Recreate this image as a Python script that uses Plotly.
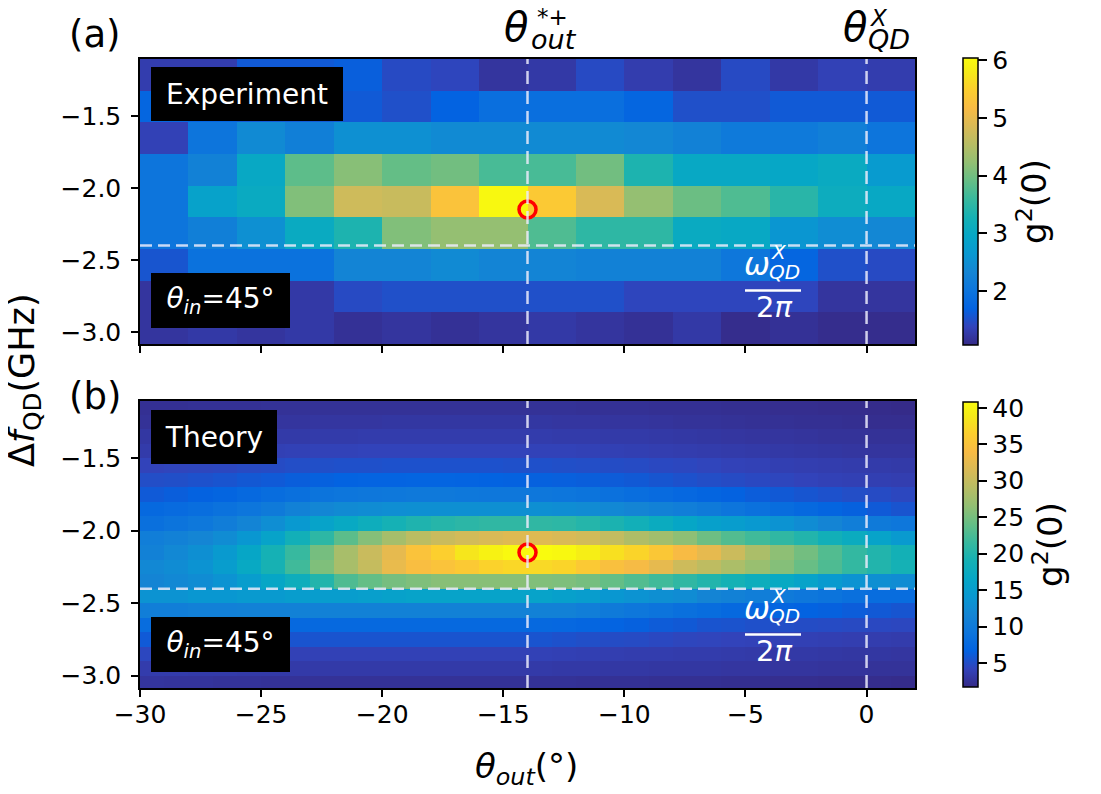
import plotly.graph_objects as go

# ---------------- data ----------------
exp_theta = [-29, -27, -25, -23, -21, -19, -17, -15, -13, -11, -9, -7, -5, -3, -1, 1]
exp_df = [-1.215, -1.435, -1.655, -1.875, -2.095, -2.315, -2.535, -2.755, -2.975]
exp_g2 = [
    [1.30, 1.30, 1.60, 1.60, 1.65, 1.45, 1.40, 1.20, 1.25, 1.45, 1.30, 1.20, 1.45, 1.25, 1.35, 1.30],
    [1.75, 1.70, 1.60, 1.60, 1.60, 1.50, 1.70, 1.90, 1.90, 1.90, 1.75, 1.50, 1.50, 1.60, 1.60, 1.60],
    [1.35, 2.00, 2.40, 2.20, 2.50, 2.50, 2.40, 2.40, 2.40, 2.40, 2.35, 2.25, 2.10, 2.10, 2.20, 2.00],
    [2.00, 2.25, 3.00, 3.85, 4.15, 3.90, 4.00, 3.70, 3.70, 4.00, 3.35, 3.00, 3.00, 2.95, 3.05, 2.70],
    [2.00, 2.85, 3.05, 4.10, 4.75, 4.70, 5.30, 6.00, 5.40, 4.85, 4.25, 3.95, 3.75, 3.45, 3.10, 3.00],
    [2.00, 2.20, 2.50, 3.05, 3.35, 4.10, 4.25, 4.25, 3.75, 3.50, 3.50, 3.05, 3.00, 2.60, 2.45, 2.35],
    [1.55, 1.95, 1.95, 1.95, 2.30, 2.30, 2.40, 2.30, 2.30, 2.25, 2.25, 2.25, 2.05, 1.75, 1.50, 1.45],
    [1.20, 1.50, 1.40, 1.25, 1.45, 1.50, 1.50, 1.50, 1.50, 1.50, 1.40, 1.40, 1.40, 1.40, 1.20, 1.20],
    [1.20, 1.25, 1.20, 1.25, 1.15, 1.20, 1.15, 1.20, 1.25, 1.20, 1.15, 1.25, 1.10, 1.15, 1.10, 1.10],
]

theo_theta = [-29.5, -28.5, -27.5, -26.5, -25.5, -24.5, -23.5, -22.5, -21.5, -20.5, -19.5,
              -18.5, -17.5, -16.5, -15.5, -14.5, -13.5, -12.5, -11.5, -10.5, -9.5, -8.5,
              -7.5, -6.5, -5.5, -4.5, -3.5, -2.5, -1.5, -0.5, 0.5, 1.5]
theo_df = [-1.15, -1.25, -1.35, -1.45, -1.55, -1.65, -1.75, -1.85, -1.95, -2.05,
           -2.15, -2.25, -2.35, -2.45, -2.55, -2.65, -2.75, -2.85, -2.95, -3.05]
theo_g2 = [
    [2.3, 2.3, 2.4, 2.4, 2.4, 2.5, 2.5, 2.5, 2.5, 2.5, 2.5, 2.5, 2.5, 2.5, 2.5, 2.5,
     2.5, 2.5, 2.4, 2.4, 2.4, 2.3, 2.3, 2.3, 2.2, 2.2, 2.1, 2.1, 2.0, 2.0, 1.9, 1.8],
    [2.5, 2.6, 2.6, 2.7, 2.7, 2.8, 2.8, 2.9, 2.9, 2.9, 3.0, 3.0, 3.0, 3.0, 3.0, 3.0,
     3.0, 2.9, 2.9, 2.8, 2.8, 2.7, 2.6, 2.6, 2.5, 2.4, 2.4, 2.3, 2.3, 2.2, 2.1, 2.1],
    [3.0, 3.0, 3.1, 3.1, 3.2, 3.3, 3.3, 3.4, 3.4, 3.5, 3.5, 3.5, 3.5, 3.5, 3.5, 3.5,
     3.5, 3.4, 3.4, 3.3, 3.3, 3.2, 3.1, 3.0, 2.9, 2.8, 2.8, 2.7, 2.6, 2.6, 2.5, 2.5],
    [3.4, 3.5, 3.6, 3.7, 3.8, 3.9, 4.0, 4.1, 4.1, 4.2, 4.2, 4.2, 4.2, 4.2, 4.2, 4.2,
     4.1, 4.1, 4.0, 3.9, 3.8, 3.7, 3.6, 3.5, 3.4, 3.3, 3.2, 3.1, 3.0, 2.9, 2.8, 2.8],
    [4.2, 4.3, 4.4, 4.5, 4.7, 4.8, 5.0, 5.1, 5.2, 5.2, 5.3, 5.3, 5.3, 5.3, 5.3, 5.2,
     5.2, 5.1, 5.0, 4.9, 4.8, 4.6, 4.5, 4.3, 4.1, 4.0, 3.8, 3.7, 3.6, 3.5, 3.4, 3.3],
    [5.0, 5.1, 5.3, 5.5, 5.8, 6.0, 6.3, 6.5, 6.7, 6.8, 6.8, 6.9, 6.9, 6.8, 6.7, 6.6,
     6.5, 6.4, 6.3, 6.1, 5.9, 5.6, 5.3, 5.0, 4.8, 4.6, 4.4, 4.2, 4.0, 3.9, 3.8, 3.7],
    [6.0, 6.3, 6.6, 7.0, 7.5, 8.0, 8.5, 9.0, 9.3, 9.5, 9.6, 9.7, 9.7, 9.6, 9.5, 9.5,
     9.4, 9.3, 9.0, 8.6, 8.2, 7.8, 7.4, 7.0, 6.6, 6.2, 5.9, 5.6, 5.3, 5.0, 4.8, 4.5],
    [7.5, 7.8, 8.2, 8.7, 9.3, 10.0, 11.0, 11.8, 12.3, 12.6, 12.8, 13.0, 13.0, 13.0, 13.0, 13.0,
     12.9, 12.7, 12.4, 12.0, 11.5, 11.0, 10.5, 10.0, 9.2, 8.6, 8.0, 7.5, 7.0, 6.5, 6.0, 5.5],
    [8.5, 9.0, 9.6, 10.4, 11.4, 12.8, 14.3, 16.0, 17.0, 18.0, 19.0, 19.8, 20.3, 20.7, 21.0, 21.0,
     21.0, 20.8, 20.2, 19.5, 18.5, 17.5, 16.5, 15.5, 15.0, 14.3, 13.5, 12.5, 11.5, 10.5, 10.0, 9.5],
    [10.5, 11.0, 11.6, 12.5, 14.0, 16.0, 18.5, 20.8, 23.5, 25.8, 27.8, 29.3, 30.3, 31.0, 31.5, 32.0,
     32.0, 31.5, 31.0, 29.8, 28.5, 27.5, 26.3, 24.5, 23.0, 22.0, 21.0, 20.0, 18.5, 17.5, 16.0, 14.5],
    [11.0, 12.0, 13.0, 14.5, 16.5, 19.0, 21.5, 25.0, 28.0, 30.3, 32.5, 35.0, 36.5, 38.5, 39.8, 40.6,
     40.8, 40.5, 39.3, 38.0, 37.0, 35.5, 34.0, 32.5, 30.5, 28.2, 26.3, 24.8, 23.0, 21.2, 20.0, 18.8],
    [12.0, 12.5, 13.5, 15.0, 17.0, 19.2, 22.0, 25.5, 28.0, 30.0, 32.8, 34.3, 35.0, 35.8, 36.8, 37.2,
     37.4, 37.0, 35.8, 34.6, 33.8, 32.5, 30.6, 29.5, 28.3, 27.0, 25.8, 24.2, 22.8, 21.2, 20.0, 19.0],
    [11.5, 12.0, 12.5, 13.5, 15.0, 16.5, 18.0, 20.0, 22.8, 24.0, 25.0, 25.5, 26.0, 26.0, 26.0, 26.0,
     25.6, 25.4, 25.0, 24.0, 23.0, 22.0, 21.0, 20.0, 19.0, 18.0, 17.0, 16.0, 14.5, 13.5, 13.0, 12.5],
    [13.5, 13.5, 14.0, 14.0, 14.5, 14.5, 15.0, 15.0, 15.0, 15.3, 15.6, 16.0, 16.0, 16.0, 16.0, 16.0,
     16.0, 15.5, 15.0, 14.0, 13.5, 13.0, 12.5, 11.5, 11.0, 10.5, 10.0, 9.5, 9.0, 8.5, 8.0, 8.0],
    [10.5, 10.5, 10.8, 10.8, 11.0, 11.0, 11.0, 11.0, 11.0, 11.0, 11.0, 11.0, 11.0, 11.0, 11.0, 11.0,
     11.0, 11.0, 10.5, 10.0, 9.5, 9.0, 8.5, 8.0, 7.5, 7.2, 7.0, 6.7, 6.5, 6.2, 5.9, 5.6],
    [8.0, 7.8, 7.8, 7.7, 7.6, 7.5, 7.5, 7.5, 7.5, 7.5, 7.5, 7.5, 7.5, 7.5, 7.5, 7.5,
     7.5, 7.4, 7.1, 6.8, 6.5, 6.1, 5.9, 5.5, 5.4, 5.2, 5.0, 4.9, 4.8, 4.7, 4.6, 4.5],
    [6.0, 5.9, 5.8, 5.7, 5.6, 5.6, 5.5, 5.5, 5.5, 5.5, 5.5, 5.5, 5.5, 5.5, 5.5, 5.5,
     5.5, 5.3, 5.1, 4.9, 4.8, 4.6, 4.4, 4.3, 4.2, 4.1, 4.0, 3.9, 3.8, 3.7, 3.6, 3.5],
    [4.5, 4.5, 4.4, 4.3, 4.2, 4.1, 4.0, 4.0, 4.0, 4.0, 4.0, 4.0, 4.0, 4.0, 4.0, 4.0,
     4.0, 3.9, 3.8, 3.7, 3.6, 3.6, 3.5, 3.5, 3.4, 3.3, 3.2, 3.2, 3.1, 3.0, 3.0, 2.9],
    [3.5, 3.5, 3.4, 3.4, 3.3, 3.3, 3.3, 3.3, 3.3, 3.3, 3.3, 3.3, 3.3, 3.3, 3.3, 3.3,
     3.3, 3.2, 3.2, 3.1, 3.1, 3.0, 3.0, 3.0, 2.9, 2.9, 2.8, 2.8, 2.7, 2.7, 2.6, 2.6],
    [2.8, 2.7, 2.7, 2.6, 2.6, 2.5, 2.5, 2.5, 2.5, 2.5, 2.5, 2.5, 2.5, 2.5, 2.5, 2.5,
     2.5, 2.5, 2.4, 2.4, 2.4, 2.3, 2.3, 2.3, 2.2, 2.2, 2.1, 2.1, 2.0, 2.0, 2.0, 1.9],
]

marker_theta = [-14]          # theta*_out
marker_df = [-2.15]
vline_theta = [-14, 0]        # theta*+_out, theta^X_QD
hline_df = -2.4               # omega^X_QD / 2pi
x_ticks = [-30, -25, -20, -15, -10, -5, 0]
y_ticks = [-1.5, -2.0, -2.5, -3.0]
exp_cb_ticks = [2, 3, 4, 5, 6]
theo_cb_ticks = [5, 10, 15, 20, 25, 30, 35, 40]

# ---------------- style ----------------
W, H = 1101, 794
OFF = 8          # page body margin of the html page
FONT = "DejaVu Sans"

parula_pts = [
    (0, (53, 42, 135)), (4, (50, 67, 186)), (8, (3, 99, 225)), (12, (13, 117, 220)),
    (16, (20, 133, 212)), (20, (9, 152, 209)), (24, (6, 167, 198)), (28, (21, 177, 180)),
    (32, (56, 185, 158)), (36, (101, 190, 134)), (40, (146, 191, 115)), (44, (183, 189, 100)),
    (48, (217, 186, 86)), (52, (248, 187, 68)), (56, (252, 206, 46)), (60, (245, 235, 24)),
    (63, (249, 251, 14)),
]
parula = [[i / 63, "rgb(%d,%d,%d)" % c] for i, c in parula_pts]


def fx(x):
    return (x - OFF) / W


def fy(y):
    return 1 - (y - OFF) / H


def px(x, y):
    return fx(x), fy(y)


def cbar(ticks, ytop, ybot):
    return dict(
        x=fx(963), xanchor="left", y=fy((ytop + ybot) / 2), yanchor="middle",
        len=(ybot - ytop) / H, lenmode="fraction", thickness=15, thicknessmode="pixels",
        outlinecolor="black", outlinewidth=1.5, ticks="outside", ticklen=9, tickwidth=1.5,
        tickcolor="black", tickvals=ticks, tickfont=dict(size=25, color="black", family=FONT),
        xpad=0, ypad=0,
        title=dict(text="g<sup>2</sup>(0)", side="right", font=dict(size=34, color="black", family=FONT)),
    )


fig = go.Figure()
fig.add_trace(go.Heatmap(x=exp_theta, y=exp_df, z=exp_g2, colorscale=parula, zmin=1.06, zmax=6.04,
                         xaxis="x", yaxis="y", colorbar=cbar(exp_cb_ticks, 58, 345)))
fig.add_trace(go.Heatmap(x=theo_theta, y=theo_df, z=theo_g2, colorscale=parula, zmin=1.7, zmax=40.8,
                         xaxis="x2", yaxis="y2", colorbar=cbar(theo_cb_ticks, 402, 687)))

for xa, ya in (("x", "y"), ("x2", "y2")):
    fig.add_trace(go.Scatter(x=marker_theta, y=marker_df, mode="markers", xaxis=xa, yaxis=ya,
                             marker=dict(size=17, color="rgba(0,0,0,0)", line=dict(color="#ff0000", width=3.5)),
                             showlegend=False, hoverinfo="skip"))

dash_col = "rgba(235,235,250,0.85)"
shapes = []
for xa, ya in (("x", "y"), ("x2", "y2")):
    for v in vline_theta:
        shapes.append(dict(type="line", xref=xa, yref=ya + " domain", x0=v, x1=v, y0=0, y1=1,
                           line=dict(color=dash_col, width=2.5, dash="13px,7px")))
    shapes.append(dict(type="line", xref=xa + " domain", yref=ya, x0=0, x1=1, y0=hline_df, y1=hline_df,
                       line=dict(color=dash_col, width=2.5, dash="12px,6px")))

annotations = []


def add_text(x, y, text, size, color="black", **kw):
    xp, yp = px(x, y)
    d = dict(x=xp, y=yp, xref="paper", yref="paper", text=text, showarrow=False,
             xanchor="center", yanchor="middle", font=dict(size=size, color=color, family=FONT))
    d.update(kw)
    annotations.append(d)


def add_box(cx, cy, w, h, text):
    xp, yp = px(cx, cy)
    annotations.append(dict(x=xp, y=yp, xref="paper", yref="paper", text=text, showarrow=False,
                            xanchor="center", yanchor="middle", bgcolor="black", borderpad=0,
                            borderwidth=0, width=w, height=h, align="center", valign="middle",
                            font=dict(size=28, color="white", family=FONT)))


# panel boxes
add_box(247, 94, 192, 54, "Experiment")
add_box(220, 300, 139, 55, "<i>θ</i><sub><i>in</i></sub>=45°")
add_box(214, 437, 126, 54, "Theory")
add_box(220, 644, 139, 55, "<i>θ</i><sub><i>in</i></sub>=45°")

# omega fraction labels
for off in (0, 344):
    add_text(757, 264 + off, "<i>ω</i>", 31, "white")
    add_text(779, 252 + off, "<i>X</i>", 20, "white")
    add_text(784, 272 + off, "<i>QD</i>", 20, "white")
    add_text(774, 307 + off, "2<i>π</i>", 29, "white")
    x0, y0 = px(745, 290.5 + off)
    x1, _ = px(801, 290.5 + off)
    shapes.append(dict(type="line", xref="paper", yref="paper", x0=x0, x1=x1, y0=y0, y1=y0,
                       line=dict(color="white", width=2.5)))

# top labels
add_text(516, 27, "<i>θ</i>", 40)
add_text(552, 17, "*+", 23)
add_text(554, 39, "<i>out</i>", 27)
add_text(855, 27, "<i>θ</i>", 40)
add_text(879, 18, "<i>X</i>", 23)
add_text(889, 39, "<i>QD</i>", 27)

# panel letters
add_text(95, 35, "(a)", 37)
add_text(95, 396, "(b)", 37)

# axis titles
add_text(24, 380, "Δ<i>f</i><sub>QD</sub>(GHz)", 35, textangle=-90)
add_text(526, 768, "<i>θ</i><sub><i>out</i></sub>(°)", 34)

axis_common = dict(showgrid=False, zeroline=False, showline=True, mirror=True, linecolor="black",
                   linewidth=1.5, ticks="outside", ticklen=7, tickwidth=1.5, tickcolor="black",
                   tickfont=dict(size=25, color="black", family=FONT))
xdom = [fx(140), fx(915)]

fig.update_layout(
    width=W, height=H, margin=dict(l=0, r=0, t=0, b=0, autoexpand=False),
    paper_bgcolor="white", plot_bgcolor="white", showlegend=False,
    font=dict(family=FONT, color="black"),
    xaxis=dict(domain=xdom, anchor="y", range=[-30, 2], tickvals=x_ticks, showticklabels=False, **axis_common),
    yaxis=dict(domain=[fy(344), fy(59)], anchor="x", range=[-3.085, -1.105], tickvals=y_ticks,
               tickformat=".1f", ticklabelstandoff=5, **axis_common),
    xaxis2=dict(domain=xdom, anchor="y2", range=[-30, 2], tickvals=x_ticks, ticklabelstandoff=-4,
                **axis_common),
    yaxis2=dict(domain=[fy(688), fy(401)], anchor="x2", range=[-3.085, -1.105], tickvals=y_ticks,
                tickformat=".1f", ticklabelstandoff=5, **axis_common),
    shapes=shapes, annotations=annotations,
)

fig.write_html("out.html")
